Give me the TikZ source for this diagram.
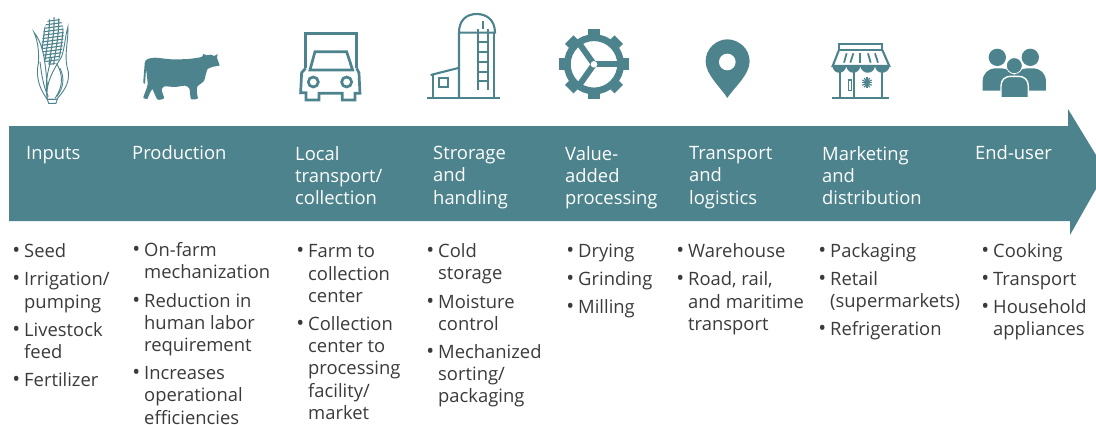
\documentclass[tikz,border=0pt]{standalone}
\usepackage{fontspec}
\setmainfont{Open Sans}
\usetikzlibrary{positioning}

\definecolor{teal}{HTML}{4C838C}
\definecolor{ink}{HTML}{3A3A3A}
\newcommand{\bul}{\llap{{\fontsize{21}{21}\selectfont\textbullet}\hspace{4pt}}}

\begin{document}
\begin{tikzpicture}[
		x=1pt, y=-1pt,
		stepname/.style={anchor=north west, inner sep=0pt, align=left, text=white,
			font={\fontsize{18.4}{22.4}\selectfont}, execute at begin node=\strut},
		steplist/.style={anchor=north west, inner sep=0pt, align=left, text=ink,
			font={\fontsize{18.4}{22.2}\selectfont}, execute at begin node=\strut},
		icon/.style={shift={(#1,0)}, x=0.3333pt, y=-0.3333pt},
		outline/.style={draw=teal, line width=2.1pt, line join=miter},
		husk/.style={draw=teal, line width=0.9pt, fill=white},
		kernel/.style={draw=teal, line width=1.1pt}
	]
	\useasboundingbox (0,0) rectangle (1096,424);

	% >> arrow
	\fill[teal] (9,126) -- (1068,126) -- (1068,109) -- (1096,155) -- (1096,189)
		-- (1070,235) -- (1070,221) -- (9,221) -- cycle;

	% >> step names
	\node[stepname] (inputs) at (26,143.5) {Inputs};
	\node[stepname] (production) at (132,143.5) {Production};
	\node[stepname] (local) at (295,146) {Local\\transport/\\collection};
	\node[stepname] (storage) at (433,146) {Strorage\\and\\handling};
	\node[stepname] (processing) at (565,146) {Value-\\added\\processing};
	\node[stepname] (logistics) at (689,146) {Transport\\and\\logistics};
	\node[stepname] (marketing) at (822,146) {Marketing\\and\\distribution};
	\node[stepname] (enduser) at (975,143.5) {End-user};

	% >> lists
	\node[steplist] (inputs list) at (24,243.5)
		{\bul Seed\\[6pt]\bul Irrigation/\\pumping\\[6pt]\bul Livestock\\feed\\[6pt]\bul Fertilizer};
	\node[steplist] (production list) at (144,242.5)
		{\bul On-farm\\mechanization\\[6pt]\bul Reduction in\\human labor\\requirement\\[6pt]\bul Increases\\operational\\efficiencies};
	\node[steplist] (local list) at (308,244.5)
		{\bul Farm to\\collection\\center\\[6pt]\bul Collection\\center to\\processing\\facility/\\market};
	\node[steplist] (storage list) at (438,243.5)
		{\bul Cold\\storage\\[6pt]\bul Moisture\\control\\[6pt]\bul Mechanized\\sorting/\\packaging};
	\node[steplist] (processing list) at (578,243.5)
		{\bul Drying\\[6pt]\bul Grinding\\[6pt]\bul Milling};
	\node[steplist] (logistics list) at (688,243.5)
		{\bul Warehouse\\[6pt]\bul Road, rail,\\and maritime\\transport};
	\node[steplist] (marketing list) at (830,243)
		{\bul Packaging\\[6pt]\bul Retail\\(supermarkets)\\[6pt]\bul Refrigeration};
	\node[steplist] (enduser list) at (993,243)
		{\bul Cooking\\[6pt]\bul Transport\\[6pt]\bul Household\\appliances};

	% >> corn
	\begin{scope}[icon=0]
		\begin{scope}
			\clip plot[smooth cycle, tension=.7] coordinates
				{(165,52) (186,70) (190,120) (178,175) (150,195) (125,160) (130,100) (142,65)};
			\foreach \y in {52,62,...,192}
				\draw[kernel] (110,\y+6) -- (200,\y-6);
			\foreach \x in {128,142,...,190}
				\draw[kernel] (\x+6,50) .. controls (\x+8,100) and (\x-3,150) .. (\x-10,200);
		\end{scope}
		\draw[husk] (102,97) .. controls (125,125) and (135,170) .. (140,240)
			.. controls (145,270) and (150,285) .. (142,298)
			.. controls (125,275) and (105,240) .. (115,190) .. controls (118,150) and (112,120) .. cycle;
		\draw[husk] (204,80) .. controls (205,130) and (190,170) .. (205,215)
			.. controls (210,255) and (185,280) .. (170,298) -- (142,298)
			.. controls (135,250) and (160,210) .. (185,170) .. controls (195,140) and (195,110) .. cycle;
		\draw[husk, fill=none] (155,175) .. controls (140,220) and (135,260) .. (142,295);
		\draw[husk, fill=none] (170,190) .. controls (190,225) and (190,260) .. (165,295);
		\draw[husk, fill=none] (180,205) .. controls (195,235) and (190,265) .. (170,290);
		\draw[husk, fill=none] (120,185) .. controls (125,225) and (130,260) .. (145,290);
		\draw[husk] (142,298) -- (172,298) -- (168,310) -- (146,310) -- cycle;
	\end{scope}

	% >> cow
	\fill[teal, shift={(135,45)}, x=0.3333pt, y=-0.3333pt] plot[smooth cycle, tension=.35] coordinates {
		(38,42) (60,38) (110,43) (160,42) (200,36) (205,27) (215,31) (228,29) (238,33) (248,27)
		(246,38) (252,55) (253,62) (235,65) (218,72) (212,90) (207,108) (187,125) (186,145) (188,161)
		(168,162) (163,130) (150,122) (120,126) (88,124) (80,135) (87,160) (68,164) (58,145) (52,132)
		(42,150) (37,162) (25,158) (33,135) (38,118) (36,95) (33,75) (30,115) (25,112) (28,70) (30,50)};

	% >> truck
	\begin{scope}[icon=0, outline/.append style={line width=2.7pt}]
		\draw[outline] (917,205) -- (917,100) -- (1070,100) -- (1070,205);
		\draw[outline] (917,205) -- (905,218) -- (902,278) -- (918,278) -- (918,300) -- (957,300) -- (957,280)
			-- (1027,280) -- (1027,300) -- (1065,300) -- (1065,280) -- (1080,280) -- (1077,218) -- (1070,205);
		\draw[outline] (945,155) -- (1040,155) -- (1058,210) -- (930,210) -- cycle;
		\draw[outline] (940,246) circle (15);
		\draw[outline] (1040,246) circle (15);
	\end{scope}

	% >> silo
	\begin{scope}[icon=370]
		\draw[outline] (267,295) -- (267,98) .. controls (267,60) and (290,42) .. (320,42)
			.. controls (350,42) and (375,60) .. (375,98) -- (267,98);
		\draw[outline] (372,98) -- (372,295);
		\draw[outline] (172,295) -- (390,295);
		\draw[outline] (323,88) -- (323,270);
		\draw[outline] (353,88) -- (353,270);
		\foreach \y in {125,155,185,215,242}
			\draw[outline] (323,\y) -- (353,\y);
		\draw[outline] (338,64) -- (338,88);
		\draw[outline] (182,225) -- (265,204);
		\draw[outline] (188,225) -- (188,295);
		\draw[outline] (207,233) rectangle (235,262);
	\end{scope}

	% >> gear
	\begin{scope}[icon=370, shift={(672,193)}]
		\foreach \a in {0,45,...,315}
			\fill[teal, rotate=\a] (88,-18) -- (105,-18) -- (105,18) -- (88,18) -- cycle;
		\draw[teal, line width=6.8pt] (0,0) circle (80);
		\draw[teal, line width=6pt] (0,0) -- (75,0);
		\draw[teal, line width=6pt] (0,0) -- (-46,-65);
		\draw[teal, line width=6pt] (0,0) -- (-46,65);
		\fill[white] (0,0) circle (10);
	\end{scope}

	% >> pin
	\begin{scope}[icon=370]
		\fill[teal] (1072,294) .. controls (1055,265) and (1007,225) .. (1007,184)
			.. controls (1007,145) and (1040,118) .. (1072,118)
			.. controls (1105,118) and (1139,145) .. (1139,184)
			.. controls (1139,225) and (1090,265) .. cycle;
		\fill[white] (1072,186) circle (25);
	\end{scope}

	% >> store
	\begin{scope}[icon=740]
		\draw[outline] (297,131) rectangle (427,150);
		\draw[outline] (297,150) -- (278,198) -- (448,198) -- (427,150);
		\fill[teal] (277,198) .. controls (280,225) and (315,225) .. (319,198)
			.. controls (322,225) and (358,225) .. (361,198)
			.. controls (365,225) and (402,225) .. (405,198)
			.. controls (408,225) and (445,225) .. (449,198) -- cycle;
		\draw[outline] (300,215) -- (300,293);
		\draw[outline] (427,215) -- (427,293);
		\draw[outline] (341,215) -- (341,293);
		\draw[outline] (276,293) -- (447,293);
		\draw[outline, line width=1.6pt] (325,240) rectangle (335,272);
		\foreach \a in {0,30,...,150}
			\draw[teal, line width=1.2pt, rotate around={\a:(381,248)}] (365,248) -- (397,248);
		\foreach \xa/\ya/\xb/\yb in {320/160/312/188, 340/160/331/188, 361/160/361/188, 384/160/392/188, 405/160/414/188}
			\draw[teal, line width=1.8pt] (\xa,\ya) -- (\xb,\yb);
	\end{scope}

	% >> people
	\begin{scope}[icon=740]
		\fill[teal] (772,172) circle (26);
		\fill[teal] (871,172) circle (26);
		\fill[teal] (728,272) -- (728,245) .. controls (728,220) and (745,205) .. (768,205) -- (785,205)
			.. controls (800,205) and (815,215) .. (823,225) .. controls (831,215) and (846,205) .. (861,205)
			-- (878,205) .. controls (901,205) and (918,220) .. (918,245) -- (918,272) -- cycle;
		\filldraw[fill=teal, draw=white, line width=0.8pt] (823,197) circle (24);
		\filldraw[fill=teal, draw=white, line width=1.4pt] (783,295) -- (783,258) .. controls (783,240) and (795,229) .. (812,229)
			-- (836,229) .. controls (853,229) and (865,240) .. (865,258) -- (865,295) -- cycle;
		\fill[white] (775,291) rectangle (875,300);
	\end{scope}
\end{tikzpicture}
\end{document}
